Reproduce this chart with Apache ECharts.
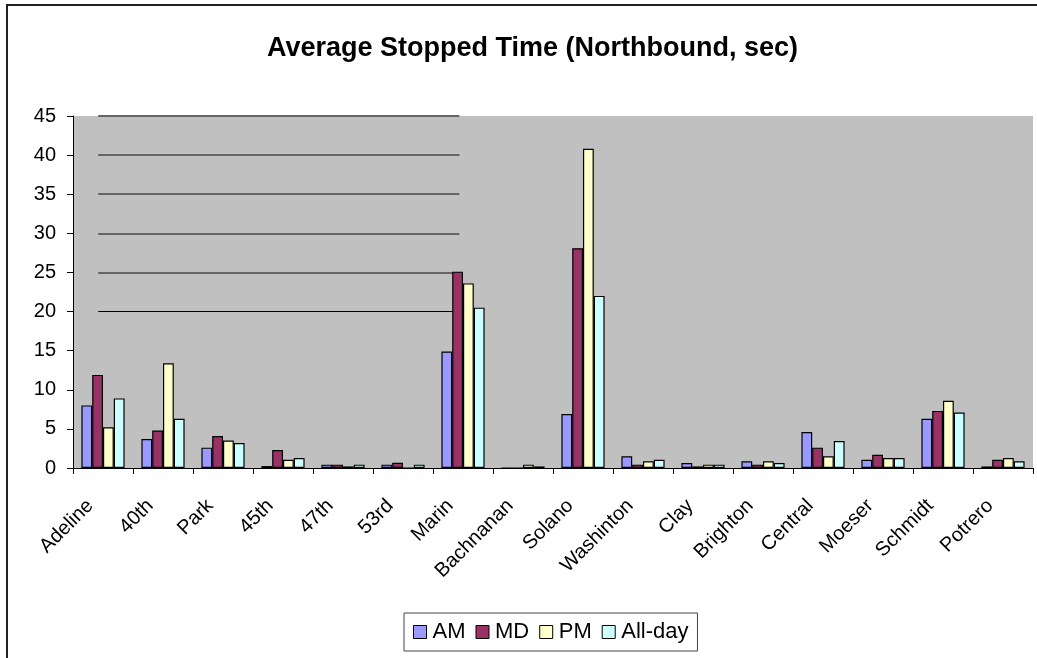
<!DOCTYPE html>
<html>
<head>
<meta charset="utf-8">
<title>Average Stopped Time (Northbound, sec)</title>
<script src="https://cdn.jsdelivr.net/npm/echarts@6/dist/echarts.min.js"></script>
<style>
  html, body { margin: 0; padding: 0; background: #fff; }
  #chart { width: 1037px; height: 658px; }
</style>
</head>
<body>
<div id="chart"></div>
<script>
// Intersections along the northbound route
const intersections = ['Adeline', '40th', 'Park', '45th', '47th', '53rd', 'Marin', 'Bachnanan',
  'Solano', 'Washinton', 'Clay', 'Brighton', 'Central', 'Moeser', 'Schmidt', 'Potrero'];

// Average stopped time per period, seconds
const amValues     = [8.0, 3.7, 2.6, 0.25, 0.43, 0.43, 14.9, 0,    6.9, 1.5,  0.64, 0.85, 4.6, 1.06, 6.3, 0.2];
const mdValues     = [11.9, 4.8, 4.1, 2.3, 0.43, 0.68, 25.1, 0,   28.1, 0.43, 0.2,  0.43, 2.6, 1.7,  7.3, 1.06];
const pmValues     = [5.2, 13.4, 3.5, 1.06, 0.2, 0,    23.6, 0.43, 40.8, 0.85, 0.43, 0.85, 1.5, 1.28, 8.6, 1.28];
const allDayValues = [8.9, 6.3, 3.2, 1.28, 0.43, 0.43, 20.5, 0.2,  22.0, 1.06, 0.43, 0.64, 3.45, 1.28, 7.1, 0.85];

// Value-axis ticks
const yMin = 0, yMax = 45, yStep = 5;

// Horizontal reference lines and the stretch of category positions they cover
const refLineValues = [45, 40, 35, 30, 25, 20];
const refLineSpan = [0.42, 6.44];

const seriesNames = ['AM', 'MD', 'PM', 'All-day'];
const seriesColors = ['#9999FF', '#993366', '#FFFFCC', '#CCFFFF'];
const seriesValues = [amValues, mdValues, pmValues, allDayValues];

const chart = echarts.init(document.getElementById('chart'), null, { renderer: 'canvas' });

const barSeries = seriesNames.map((name, i) => ({
  name: name,
  type: 'bar',
  xAxisIndex: 0,
  yAxisIndex: 0,
  data: seriesValues[i],
  barGap: '0%',
  barCategoryGap: '28%',
  z: 3,
  itemStyle: { color: seriesColors[i], borderColor: '#000', borderWidth: 1.2 },
  emphasis: { disabled: true }
}));

const refLines = {
  name: 'ref',
  type: 'line',
  xAxisIndex: 1,
  yAxisIndex: 0,
  data: [],
  silent: true,
  z: 1,
  markLine: {
    silent: true,
    symbol: 'none',
    z: 1,
    label: { show: false },
    emphasis: { disabled: true },
    data: refLineValues.map(v => [
      {
        coord: [refLineSpan[0], v],
        lineStyle: v === 20 ? { color: '#000', width: 1, type: 'solid' } : { color: '#666', width: 2, type: 'solid' }
      },
      { coord: [refLineSpan[1], v] }
    ])
  }
};

chart.setOption({
  animation: false,
  backgroundColor: '#fff',
  textStyle: { fontFamily: 'Liberation Sans, Arial, sans-serif' },
  title: {
    text: 'Average Stopped Time (Northbound, sec)',
    left: 262,
    top: 30,
    textStyle: { fontSize: 27, fontWeight: 'bold', color: '#000', fontFamily: 'Liberation Sans, Arial, sans-serif' }
  },
  graphic: [{
    type: 'polyline',
    shape: { points: [[7, 658], [7, 5], [1037, 5]] },
    style: { stroke: '#222', lineWidth: 2, fill: null },
    silent: true
  }],
  legend: {
    data: seriesNames,
    left: 404,
    top: 613,
    orient: 'horizontal',
    icon: 'rect',
    itemWidth: 13,
    itemHeight: 13,
    itemGap: 10,
    padding: [8, 9, 8, 9],
    borderColor: '#444',
    borderWidth: 1,
    selectedMode: false,
    itemStyle: { borderColor: '#000', borderWidth: 1 },
    textStyle: { fontSize: 22, color: '#000', padding: [0, 0, 0, 1] }
  },
  grid: {
    left: 73,
    right: 4,
    top: 116,
    bottom: 190,
    show: true,
    backgroundColor: '#C0C0C0',
    borderWidth: 0,
    containLabel: false
  },
  xAxis: [{
    type: 'category',
    data: intersections,
    boundaryGap: true,
    axisLine: { show: true, lineStyle: { color: '#000', width: 1 } },
    axisTick: { show: true, length: 6, alignWithLabel: false, lineStyle: { color: '#000' } },
    axisLabel: { rotate: 45, fontSize: 20, color: '#000', margin: 22, interval: 0, padding: [0, 18, 0, 0] },
    splitLine: { show: false }
  }, {
    type: 'value',
    min: 0,
    max: intersections.length,
    show: false,
    splitLine: { show: false }
  }],
  yAxis: {
    type: 'value',
    min: yMin,
    max: yMax,
    interval: yStep,
    axisLine: { show: true, lineStyle: { color: '#000', width: 1 } },
    axisTick: { show: true, length: 6, lineStyle: { color: '#000' } },
    axisLabel: { fontSize: 20, color: '#000', margin: 17 },
    splitLine: { show: false }
  },
  series: [refLines].concat(barSeries)
});
</script>
</body>
</html>
